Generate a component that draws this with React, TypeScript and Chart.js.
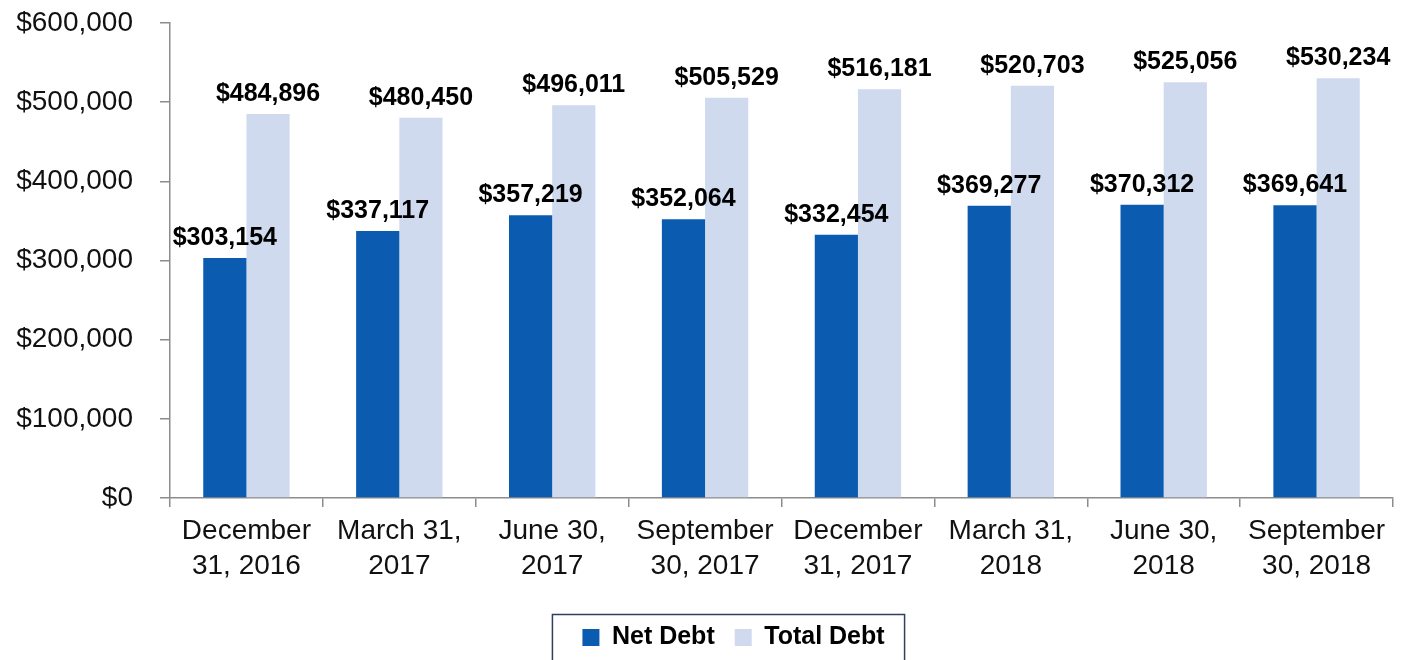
import React, { useEffect, useRef } from "react";
import { Chart, registerables } from "chart.js";

Chart.register(...registerables);

const categories: string[][] = [
  ["December", "31, 2016"],
  ["March 31,", "2017"],
  ["June 30,", "2017"],
  ["September", "30, 2017"],
  ["December", "31, 2017"],
  ["March 31,", "2018"],
  ["June 30,", "2018"],
  ["September", "30, 2018"],
];
const netDebt: number[] = [303154, 337117, 357219, 352064, 332454, 369277, 370312, 369641];
const totalDebt: number[] = [484896, 480450, 496011, 505529, 516181, 520703, 525056, 530234];
const seriesNames: string[] = ["Net Debt", "Total Debt"];

const FONT = "'Liberation Sans', Arial, sans-serif";
const DARK = "#0B5CB0";
const LIGHT = "#CFDAEF";
const AXIS = "#8C8C8C";

const fmt = (v: number) => "$" + Number(v).toLocaleString("en-US");

const valueLabels = {
  id: "valueLabels",
  afterDatasetsDraw(chart: any) {
    const ctx = chart.ctx;
    ctx.save();
    ctx.font = `bold 25px ${FONT}`;
    ctx.fillStyle = "#000";
    ctx.textAlign = "center";
    ctx.textBaseline = "alphabetic";
    chart.data.datasets.forEach((ds: any, i: number) => {
      const meta = chart.getDatasetMeta(i);
      meta.data.forEach((el: any, j: number) => {
        ctx.fillText(fmt(ds.data[j]), el.x, el.y - 13);
      });
    });
    ctx.restore();
  },
};

const legendShift = {
  id: "legendShift",
  afterLayout(chart: any) {
    const lg = chart.legend;
    if (!lg) return;
    lg.left += 37;
    lg.right += 37;
  },
};

const legendBorder = {
  id: "legendBorder",
  afterDraw(chart: any) {
    const lg = chart.legend;
    if (!lg || !lg.legendHitBoxes || !lg.legendHitBoxes.length) return;
    const hb = lg.legendHitBoxes;
    const minX = Math.min(...hb.map((h: any) => h.left));
    const maxX = Math.max(...hb.map((h: any) => h.left + h.width));
    const cy = hb[0].top + hb[0].height / 2;
    const ctx = chart.ctx;
    ctx.save();
    ctx.strokeStyle = "#2F3F5F";
    ctx.lineWidth = 1.5;
    ctx.strokeRect(minX - 30, cy - 23, maxX - minX + 50, 60);
    ctx.restore();
  },
};

export default function App() {
  const ref = useRef<HTMLCanvasElement | null>(null);
  useEffect(() => {
    if (!ref.current) return;
    const chart = new Chart(ref.current, {
      type: "bar",
      data: {
        labels: categories,
        datasets: [
          { label: seriesNames[0], data: netDebt, backgroundColor: DARK, barPercentage: 1, categoryPercentage: 0.565 },
          { label: seriesNames[1], data: totalDebt, backgroundColor: LIGHT, barPercentage: 1, categoryPercentage: 0.565 },
        ],
      },
      options: {
        responsive: false,
        animation: false,
        devicePixelRatio: 1,
        layout: { padding: { top: 23, right: 14, left: 0, bottom: 0 } },
        scales: {
          x: {
            grid: { drawOnChartArea: false, color: AXIS, tickLength: 9, lineWidth: 1.5 },
            border: { color: AXIS, width: 1.5 },
            ticks: { font: { family: FONT, size: 28, lineHeight: 1.25 }, color: "#111", padding: 7, maxRotation: 0, autoSkip: false },
            afterFit: (s: any) => { s.height = 107; s.paddingLeft = 0; s.paddingRight = 0; },
          },
          y: {
            min: 0,
            max: 600000,
            grid: { drawOnChartArea: false, color: AXIS, tickLength: 10, lineWidth: 1.5 },
            border: { color: AXIS, width: 1.5 },
            ticks: { stepSize: 100000, callback: (v: any) => fmt(v), font: { family: FONT, size: 28 }, color: "#111", padding: 27 },
            afterFit: (s: any) => { s.width = 170; s.paddingTop = 0; s.paddingBottom = 0; },
          },
        },
        plugins: {
          legend: {
            position: "bottom",
            labels: { boxWidth: 17, boxHeight: 17, font: { family: FONT, size: 25, weight: "bold" }, color: "#000", padding: 20 },
          },
          tooltip: { enabled: false },
        },
      },
      plugins: [valueLabels, legendShift, legendBorder],
    } as any);
    return () => chart.destroy();
  }, []);
  return (
    <div style={{ position: "fixed", left: 0, top: 0, width: 1407, height: 660, background: "#fff" }}>
      <canvas ref={ref} width={1407} height={660} style={{ width: 1407, height: 660 }} />
    </div>
  );
}
